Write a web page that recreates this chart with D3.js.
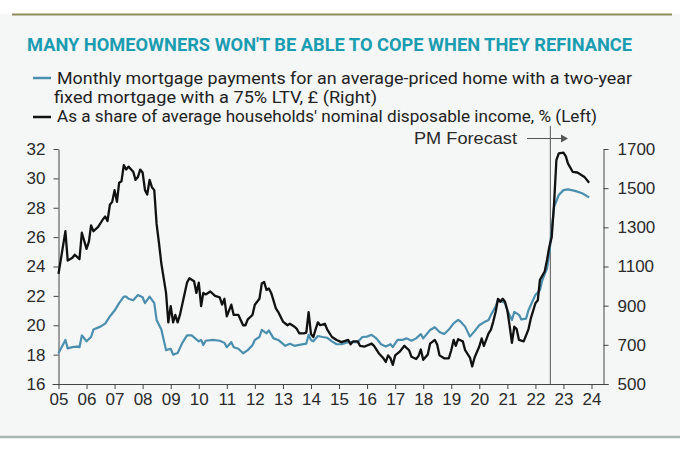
<!DOCTYPE html>
<html>
<head>
<meta charset="utf-8">
<script src="https://cdn.jsdelivr.net/npm/d3@7"></script>
<style>
  body { margin: 0; background: #fff; }
  svg { display: block; }
</style>
</head>
<body>
<div id="chart"></div>
<script>
// monthly mortgage payment, £ (right axis)
var paymentDates = ["2005-01","2005-04","2005-05","2005-07","2005-09","2005-10","2005-11","2006-01","2006-03","2006-04",
  "2006-07","2006-09","2006-11","2006-12","2007-01","2007-03","2007-05","2007-06","2007-07","2007-09",
  "2007-11","2008-01","2008-02","2008-04","2008-06","2008-07","2008-09","2008-11","2009-01","2009-02",
  "2009-04","2009-06","2009-08","2009-10","2010-01","2010-02","2010-03","2010-04","2010-07","2010-10",
  "2010-12","2011-01","2011-03","2011-04","2011-06","2011-08","2011-10","2011-12","2012-01","2012-03",
  "2012-04","2012-06","2012-07","2012-09","2012-11","2013-02","2013-04","2013-06","2013-08","2013-11",
  "2013-12","2014-01","2014-02","2014-04","2014-06","2014-08","2014-10","2014-12","2015-02","2015-05",
  "2015-07","2015-09","2015-11","2016-01","2016-03","2016-05","2016-07","2016-09","2016-11","2016-12",
  "2017-02","2017-04","2017-06","2017-08","2017-10","2017-12","2018-01","2018-04","2018-06","2018-08",
  "2018-10","2018-12","2019-02","2019-04","2019-05","2019-07","2019-09","2019-11","2020-01","2020-03",
  "2020-05","2020-06","2020-08","2020-09","2020-11","2020-12","2021-01","2021-03","2021-04","2021-06",
  "2021-07","2021-09","2021-10","2021-12","2022-01","2022-03","2022-04","2022-06","2022-07","2022-08",
  "2022-09","2022-11","2023-01","2023-03","2023-06","2023-09","2023-12"];
var paymentValues = [657,725,682,688,691,688,748,718,740,778,
  793,808,845,860,875,913,946,946,935,928,
  954,943,913,946,913,827,778,673,680,650,
  658,710,748,748,718,725,699,721,725,721,
  710,688,714,688,680,657,673,698,725,740,
  776,759,774,733,725,695,706,695,700,706,
  751,725,718,745,740,736,718,703,703,714,
  714,714,740,742,751,733,703,691,703,688,
  725,725,733,721,733,755,733,776,790,766,
  755,778,810,827,819,793,742,770,800,815,
  827,853,895,929,920,913,875,827,868,853,
  830,834,875,929,955,980,1031,1091,1168,1288,
  1405,1465,1490,1494,1486,1474,1453];

// as a share of household disposable income, % (left axis)
var shareDates = ["2005-01","2005-04","2005-05","2005-07","2005-08","2005-10","2005-11","2006-01","2006-02","2006-03",
  "2006-04","2006-06","2006-08","2006-09","2006-10","2006-11","2006-12","2007-01","2007-02","2007-03",
  "2007-04","2007-05","2007-06","2007-07","2007-09","2007-10","2007-11","2007-12","2008-01","2008-02",
  "2008-03","2008-04","2008-05","2008-06","2008-07","2008-08","2008-09","2008-11","2008-12","2009-01",
  "2009-02","2009-03","2009-04","2009-05","2009-08","2009-09","2009-11","2009-12","2010-01","2010-02",
  "2010-03","2010-04","2010-06","2010-08","2010-10","2010-11","2010-12","2011-01","2011-03","2011-04",
  "2011-06","2011-08","2011-09","2011-10","2011-12","2012-01","2012-03","2012-04","2012-05","2012-06",
  "2012-07","2012-08","2012-10","2012-11","2013-01","2013-03","2013-04","2013-06","2013-07","2013-08",
  "2013-10","2013-11","2013-12","2014-01","2014-02","2014-03","2014-04","2014-05","2014-07","2014-08",
  "2014-10","2014-12","2015-02","2015-05","2015-06","2015-07","2015-09","2015-10","2015-12","2016-03",
  "2016-04","2016-06","2016-08","2016-09","2016-10","2016-11","2016-12","2017-01","2017-03","2017-05",
  "2017-07","2017-08","2017-10","2017-11","2017-12","2018-01","2018-03","2018-04","2018-06","2018-07",
  "2018-08","2018-10","2018-12","2019-01","2019-02","2019-03","2019-04","2019-06","2019-07","2019-09",
  "2019-10","2019-11","2020-01","2020-02","2020-03","2020-05","2020-06","2020-07","2020-08","2020-09",
  "2020-10","2020-11","2020-12","2021-01","2021-02","2021-03","2021-04","2021-05","2021-06","2021-08",
  "2021-10","2021-11","2022-01","2022-02","2022-03","2022-05","2022-06","2022-07","2022-08","2022-09",
  "2022-10","2022-11","2023-01","2023-02","2023-03","2023-05","2023-07","2023-08","2023-10","2023-12"];
var shareValues = [23.5,26.4,24.4,24.6,24.8,24.5,26.3,25.2,25.7,26.8,
  26.4,26.7,27.2,27.4,27.1,28.2,28.4,29.2,28.4,29.7,
  29.8,30.9,30.6,30.8,30.45,29.9,30.1,30.6,30.4,29.2,
  28.9,29.9,29.4,29.2,26.9,25.6,24.2,22.2,20.2,21.3,
  20.2,20.7,20.2,20.7,22.9,23.2,23.0,22.2,22.9,21.3,
  22.2,22.1,22.3,22.0,21.9,21.4,21.8,20.6,21.4,20.7,
  20.7,20.0,20.0,20.4,20.7,21.4,21.8,22.85,22.95,22.4,
  22.5,22.2,21.15,20.9,20.25,20.0,20.1,19.9,19.75,19.45,
  19.45,19.5,20.9,19.4,19.2,19.7,20.2,20.0,20.1,19.7,
  19.2,19.0,18.85,19.0,18.7,18.9,18.9,18.6,18.55,18.75,
  18.6,18.1,17.75,17.5,17.95,17.75,17.3,17.95,18.2,18.6,
  18.3,17.85,17.7,17.9,18.35,17.65,18.0,18.75,19.0,18.7,
  17.95,17.75,17.75,18.3,19.0,18.6,19.05,18.9,18.3,17.8,
  17.2,17.8,18.55,19.1,18.6,19.45,19.7,20.25,20.9,21.8,
  21.6,21.8,21.6,21.0,19.9,18.8,19.9,19.75,19.0,18.9,
  19.7,20.45,21.5,21.7,23.1,23.65,24.45,25.35,26.0,28.3,
  31.25,31.7,31.75,31.5,31.0,30.45,30.4,30.3,30.1,29.7];

var leftTicks = [16, 18, 20, 22, 24, 26, 28, 30, 32];
var rightTicks = [500, 700, 900, 1100, 1300, 1500, 1700];
var forecastStart = "2022-07";

var svgWidth = 680;
var svgHeight = 451;
var parseMonth = d3.timeParse("%Y-%m");

var svg = d3.select("#chart")
  .append("svg")
  .attr("width", svgWidth)
  .attr("height", svgHeight);

// panel background + rules
svg.append("rect")
  .attr("x", 0).attr("y", 14)
  .attr("width", svgWidth).attr("height", 423)
  .attr("fill", "#f5f6f6");
svg.append("line")
  .attr("x1", 12).attr("x2", 672).attr("y1", 14.5).attr("y2", 14.5)
  .attr("stroke", "#8e8c5e").attr("stroke-width", 2);
svg.append("line")
  .attr("x1", 0).attr("x2", svgWidth).attr("y1", 437).attr("y2", 437)
  .attr("stroke", "#a9b7b1").attr("stroke-width", 2.5);

// title
svg.append("text")
  .attr("x", 27).attr("y", 51)
  .attr("textLength", 605).attr("lengthAdjust", "spacingAndGlyphs")
  .attr("font-family", "'Liberation Sans Narrow', 'Roboto', sans-serif")
  .attr("font-weight", "bold").attr("font-size", "18px")
  .attr("fill", "#1a9cb1")
  .text("MANY HOMEOWNERS WON'T BE ABLE TO COPE WHEN THEY REFINANCE");

// legend
var blueColor = "#4b8fae";
var legendFont = "'Liberation Sans Narrow', 'Roboto', sans-serif";
svg.append("line").attr("x1", 33).attr("x2", 51).attr("y1", 78).attr("y2", 78)
  .attr("stroke", blueColor).attr("stroke-width", 2.5);
svg.append("line").attr("x1", 33).attr("x2", 51).attr("y1", 117).attr("y2", 117)
  .attr("stroke", "#111").attr("stroke-width", 2.5);
var legendLines = [
  { text: "Monthly mortgage payments for an average-priced home with a two-year", x: 57, y: 84, len: 575 },
  { text: "fixed mortgage with a 75% LTV, £ (Right)", x: 54, y: 103, len: 323 },
  { text: "As a share of average households' nominal disposable income, % (Left)", x: 57, y: 122, len: 540 }
];
svg.selectAll(".legend-text")
  .data(legendLines)
  .enter()
  .append("text")
  .attr("class", "legend-text")
  .attr("x", d => d.x).attr("y", d => d.y)
  .attr("textLength", d => d.len).attr("lengthAdjust", "spacingAndGlyphs")
  .attr("font-family", legendFont).attr("font-size", "17px")
  .attr("fill", "#222")
  .text(d => d.text);

// scales
var x = d3.scaleTime()
  .domain([parseMonth("2005-01"), parseMonth("2024-01")])
  .range([58.5, 591.5]);
var yLeft = d3.scaleLinear().domain([16, 32]).range([384, 149]);
var yRight = d3.scaleLinear().domain([500, 1700]).range([384, 149]);
var leftX = 58.5;
var rightX = 603.5;

var tickFont = "'Liberation Sans', Arial, sans-serif";

// left axis
var leftAxis = svg.append("g")
  .attr("transform", `translate(${leftX},0)`)
  .call(d3.axisLeft(yLeft).tickValues(leftTicks).tickSize(5).tickSizeOuter(0).tickPadding(8));
// right axis
var rightAxis = svg.append("g")
  .attr("transform", `translate(${rightX},0)`)
  .call(d3.axisRight(yRight).tickValues(rightTicks).tickFormat(d3.format("d"))
    .tickSize(5).tickSizeOuter(0).tickPadding(9));
// bottom axis
var bottomAxis = svg.append("g")
  .attr("transform", "translate(0,384)")
  .call(d3.axisBottom(x).ticks(d3.timeYear.every(1)).tickFormat(d3.timeFormat("%y"))
    .tickSize(5).tickSizeOuter(0).tickPadding(4));
bottomAxis.select(".domain").remove();
svg.append("line")
  .attr("x1", leftX - 6).attr("x2", rightX + 5).attr("y1", 384.5).attr("y2", 384.5)
  .attr("stroke", "#444").attr("stroke-width", 1);

[leftAxis, rightAxis, bottomAxis].forEach(function(g) {
  g.selectAll("path, line").attr("stroke", "#444");
  g.selectAll("text")
    .attr("font-family", tickFont)
    .attr("font-size", "17px")
    .attr("fill", "#2a2a2a");
});

// forecast marker
var fx = x(parseMonth(forecastStart)) + 1;
svg.append("line")
  .attr("x1", fx).attr("x2", fx).attr("y1", 126).attr("y2", 384)
  .attr("stroke", "#555").attr("stroke-width", 1);
svg.append("text")
  .attr("x", 414).attr("y", 144)
  .attr("textLength", 103).attr("lengthAdjust", "spacingAndGlyphs")
  .attr("font-family", tickFont).attr("font-size", "17px")
  .attr("fill", "#2a2a2a")
  .text("PM Forecast");
svg.append("line")
  .attr("x1", 527).attr("x2", 562).attr("y1", 138.5).attr("y2", 138.5)
  .attr("stroke", "#555").attr("stroke-width", 1.2);
svg.append("path")
  .attr("d", "M561,134.5 L568,138.5 L561,142.5 Z")
  .attr("fill", "#555");

// lines
var paymentData = paymentDates.map((d, i) => ({ date: parseMonth(d), value: paymentValues[i] }));
var shareData = shareDates.map((d, i) => ({ date: parseMonth(d), value: shareValues[i] }));

svg.append("path")
  .datum(paymentData)
  .attr("fill", "none")
  .attr("stroke", blueColor)
  .attr("stroke-width", 2.2)
  .attr("stroke-linejoin", "round")
  .attr("d", d3.line().x(d => x(d.date)).y(d => yRight(d.value)));

svg.append("path")
  .datum(shareData)
  .attr("fill", "none")
  .attr("stroke", "#111")
  .attr("stroke-width", 2.3)
  .attr("stroke-linejoin", "round")
  .attr("d", d3.line().x(d => x(d.date)).y(d => yLeft(d.value)));
</script>
</body>
</html>
